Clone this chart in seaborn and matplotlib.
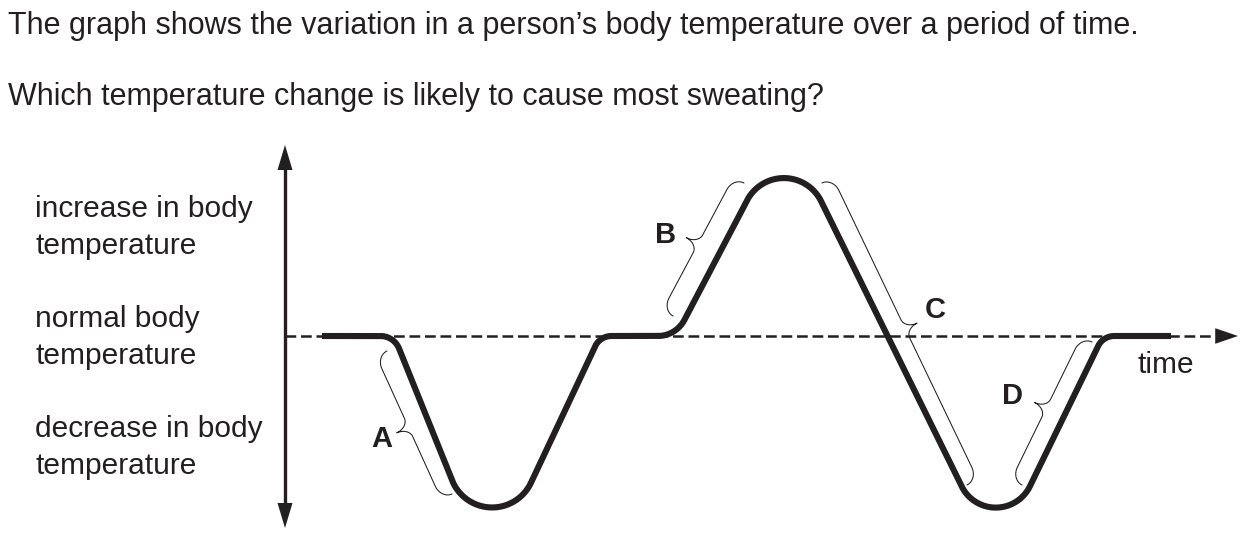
import numpy as np
import pandas as pd
import seaborn as sns
import matplotlib.pyplot as plt

# === Data: corner points of the body temperature trace ===
# time in arbitrary units, temperature relative to normal (0)
time_pts = [3.7, 10.9, 20.4, 31.5, 39.1, 50.0, 71.1, 81.8, 88.6]
temp_pts = [0.0, 0.0, -23.6, 0.0, 0.0, 20.8, -22.0, 0.0, 0.0]
corner_round = [2.0, 4.3, 1.8, 3.0, 4.15, 3.8, 1.8]  # rounding of inner corners

# braces marking the four temperature changes
brace_labels = ["A", "B", "C", "D"]
brace_start = [(10.2, -1.5), (45.9, 15.3), (53.7, 15.3), (80.7, -0.6)]
brace_end = [(16.7, -15.8), (38.8, 2.0), (68.2, -14.9), (73.7, -14.9)]
brace_side = ["left", "left", "right", "left"]
label_pos = [(9.7, -11.1), (38.1, 9.3), (65.0, 1.8), (72.7, -6.8)]

axis_labels = ["increase in body", "temperature",
               "normal body", "temperature",
               "decrease in body", "temperature"]
axis_label_y = [11.9, 8.2, 0.9, -2.8, -10.1, -13.8]

question = ["The graph shows the variation in a person\u2019s body temperature over a period of time.",
            "Which temperature change is likely to cause most sweating?"]

ink = "#231f20"


def rounded_path(xs, ys, radii, n=40):
    # replace each inner corner by a circular arc
    pts = np.column_stack([xs, ys]).astype(float)
    out = [pts[0]]
    for i in range(1, len(pts) - 1):
        v = pts[i]
        u1 = pts[i - 1] - v
        u1 /= np.linalg.norm(u1)
        u2 = pts[i + 1] - v
        u2 /= np.linalg.norm(u2)
        half = np.arccos(np.clip(u1 @ u2, -1, 1)) / 2
        r = radii[i - 1]
        d = r / np.tan(half)
        t1, t2 = v + u1 * d, v + u2 * d
        bis = (u1 + u2) / np.linalg.norm(u1 + u2)
        c = v + bis * r / np.sin(half)
        a1 = np.arctan2(t1[1] - c[1], t1[0] - c[0])
        a2 = np.arctan2(t2[1] - c[1], t2[0] - c[0])
        da = (a2 - a1 + np.pi) % (2 * np.pi) - np.pi
        ang = a1 + da * np.linspace(0, 1, n)
        out.extend(c + r * np.column_stack([np.cos(ang), np.sin(ang)]))
    out.append(pts[-1])
    return np.array(out)


def brace_xy(p1, p2, side, a1=1.4, b1=1.2, a2=1.0, b2=1.3, n=20):
    p1, p2 = np.array(p1, float), np.array(p2, float)
    L = np.linalg.norm(p2 - p1)
    u = (p2 - p1) / L
    nrm = np.array([-u[1], u[0]])
    if (side == "left") != (nrm[0] < 0):
        nrm = -nrm
    th = np.linspace(0, np.pi / 2, n)
    s = np.concatenate([a1 - a1 * np.cos(th), L / 2 - a2 + a2 * np.sin(th)])
    h = np.concatenate([b1 * np.sin(th), b1 + b2 - b2 * np.cos(th)])
    s = np.concatenate([s, (L - s)[::-1]])
    h = np.concatenate([h, h[::-1]])
    pts = p1 + np.outer(s, u) + np.outer(h, nrm)
    return pts[:, 0], pts[:, 1]


sns.set_style("white")
plt.rcParams["font.family"] = ["Liberation Sans", "DejaVu Sans"]

fig = plt.figure(figsize=(12.56, 5.42), dpi=100)
ax = fig.add_axes([0, 0, 1, 1])
ax.set_xlim(-28.5, 97.1)
ax.set_ylim(-20.6, 33.6)
ax.axis("off")

# normal temperature line (dashed) with arrow head
ax.plot([0, 93.0], [0, 0], color=ink, lw=1.8, ls=(0, (4.3, 1.9)))
ax.annotate("", xy=(95.3, 0), xytext=(93.0, 0),
            arrowprops=dict(arrowstyle="-|>,head_length=0.41,head_width=0.14",
                            mutation_scale=40, color=ink, lw=0, shrinkA=0, shrinkB=0))

# vertical temperature axis
ax.plot([0, 0], [-17.0, 17.0], color=ink, lw=2.4)
ax.annotate("", xy=(0, 19.1), xytext=(0, -19.2),
            arrowprops=dict(arrowstyle="<|-|>,head_length=0.45,head_width=0.135",
                            mutation_scale=40, color=ink, lw=0, shrinkA=0, shrinkB=0))

# temperature trace
trace = rounded_path(time_pts, temp_pts, corner_round)
df = pd.DataFrame({"time": trace[:, 0], "temp": trace[:, 1]})
sns.lineplot(data=df, x="time", y="temp", sort=False, estimator=None,
             color=ink, lw=4.4, solid_capstyle="butt", solid_joinstyle="round", ax=ax)

# braces and letters
for lab, p1, p2, side, pos in zip(brace_labels, brace_start, brace_end, brace_side, label_pos):
    bx, by = brace_xy(p1, p2, side)
    ax.plot(bx, by, color=ink, lw=0.75)
    ax.text(pos[0], pos[1], lab, ha="center", va="baseline",
            fontsize=21, fontweight="bold", color=ink)

for txt, y in zip(axis_labels, axis_label_y):
    ax.text(-25.0, y, txt, ha="left", va="baseline", fontsize=21.5, color=ink)

ax.text(85.2, -3.7, "time", ha="left", va="baseline", fontsize=21.5, color=ink)

ax.text(-27.7, 30.2, question[0], ha="left", va="baseline", fontsize=22, color=ink)
ax.text(-27.7, 23.1, question[1], ha="left", va="baseline", fontsize=22, color=ink)

fig.savefig("out.png", dpi=100, facecolor="white")
